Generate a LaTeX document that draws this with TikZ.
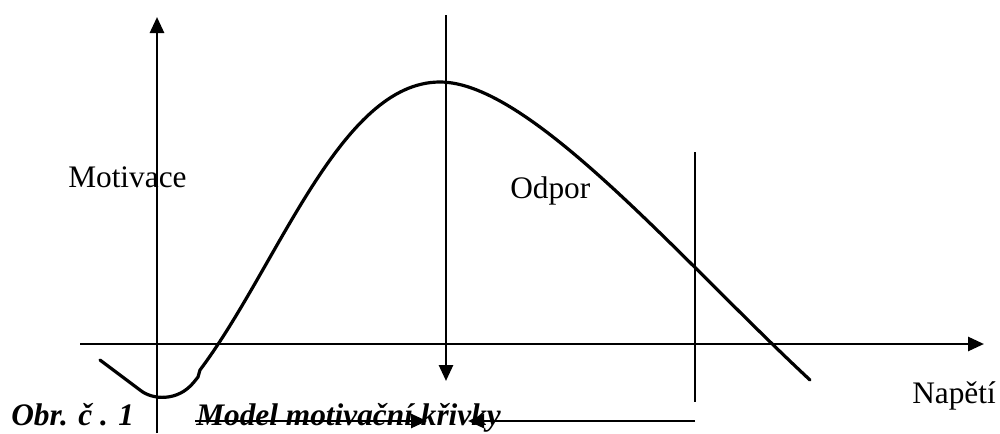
\documentclass[tikz,border=0pt]{standalone}
\usepackage{fontspec}
\setmainfont{Liberation Serif}
\usetikzlibrary{arrows.meta}
\begin{document}
\begin{tikzpicture}[x=0.75pt,y=-0.75pt,
  axis/.style={line width=2pt,-{Triangle[length=12pt,width=10.5pt]}},
  thinline/.style={line width=1.5pt},
  curveline/.style={line width=2.4pt,line join=round,line cap=round},
  lbl/.style={anchor=base west,inner sep=0pt,font=\fontsize{23.5}{28}\selectfont},
  captext/.style={anchor=base west,inner sep=0pt,font=\fontsize{23.5}{28}\selectfont\bfseries\itshape}]
\useasboundingbox (0,0) rectangle (1000,433);
% coordinates
\coordinate (ybot) at (157,433);
\coordinate (ytop) at (157,17);
\coordinate (xl) at (80,344);
\coordinate (xr) at (984,344);
\coordinate (atop) at (446,15);
\coordinate (abot) at (446,381);
\coordinate (vtop) at (695,152);
\coordinate (vbot) at (695,402);
\coordinate (bl) at (195,421);
\coordinate (br) at (695,421);
\coordinate (bm1) at (427,421);
\coordinate (bm2) at (468,421);
\coordinate (c0) at (100,360);
\coordinate (c1) at (140,390);
\coordinate (c2) at (194,382);
\coordinate (c3) at (200,370);
\coordinate (peak) at (440,82);
\coordinate (cend) at (810,380);
% axes
\draw[axis] (ybot) -- (ytop);
\draw[axis] (xl) -- (xr);
\draw[axis] (atop) -- (abot);
\draw[thinline] (vtop) -- (vbot);
% bottom arrows
\draw[axis] (bl) -- (bm1);
\draw[axis] (br) -- (bm2);
% curve
\draw[curveline] (c0) -- (c1) .. controls (152,400) and (178,402) .. (c2) -- (198,377) -- (c3)
  .. controls (278,266) and (340,82) .. (peak)
  .. controls (530,82) and (679,258) .. (cend);
% labels
\node[lbl] (mot) at (68,187) {Motivace};
\node[lbl] (odp) at (510,198) {Odpor};
\node[lbl] (nap) at (912,403) {Napětí};
\node[captext] (obr) at (11,425) {Obr. č . 1};
\node[captext] (mod) at (196,425) {Model motivační křivky};
\end{tikzpicture}
\end{document}
